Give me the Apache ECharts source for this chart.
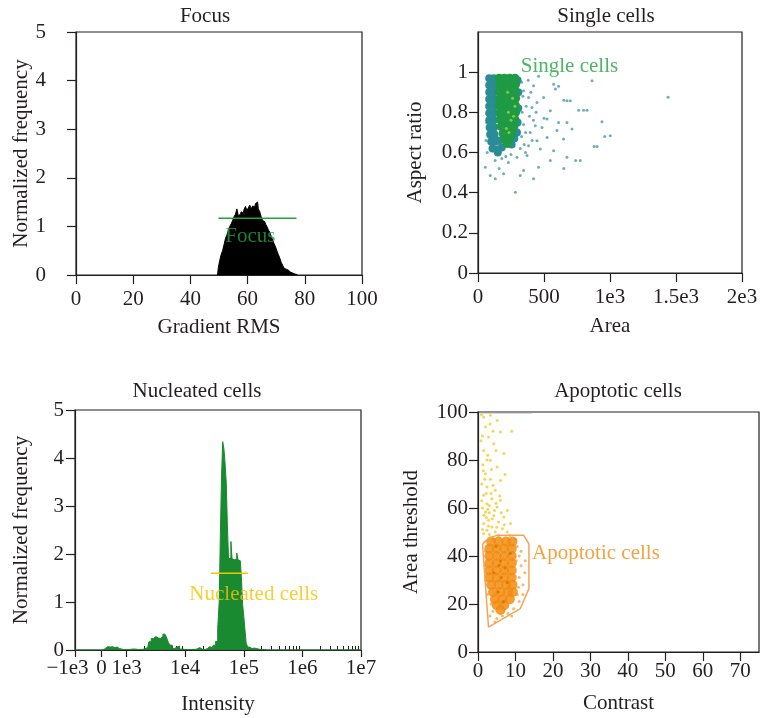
<!DOCTYPE html>
<html>
<head>
<meta charset="utf-8">
<script src="https://cdn.jsdelivr.net/npm/echarts@6/dist/echarts.min.js"></script>
<style>
  html, body { margin: 0; padding: 0; background: #fff; }
  #chart { width: 780px; height: 718px; }
</style>
</head>
<body>
<div id="chart"></div>
<script>
// Focus histogram (Gradient RMS)
const focusRms = [49.5, 50, 50.5, 51, 51.5, 52, 52.5, 53, 53.5, 54, 54.5, 55, 55.5, 56, 56.5, 57, 57.5, 58, 58.5, 59, 59.5, 60, 60.5, 61, 61.5, 62, 62.5, 63, 63.5, 64, 64.5, 65, 65.5, 66, 66.5, 67, 67.5, 68, 68.5, 69, 69.5, 70, 70.5, 71, 71.5, 72, 72.5, 73, 73.5, 74, 74.5, 75, 75.5, 76, 76.5, 77, 77.5]
const focusFreq = [0, 0.15, 0.3, 0.42, 0.5, 0.62, 0.75, 0.82, 0.92, 1.0, 1.05, 1.12, 1.2, 1.25, 1.36, 1.22, 1.25, 1.3, 1.27, 1.35, 1.41, 1.33, 1.38, 1.44, 1.36, 1.42, 1.4, 1.47, 1.5, 1.36, 1.3, 1.2, 1.12, 1.1, 1.05, 1.0, 0.93, 0.88, 0.8, 0.72, 0.65, 0.58, 0.5, 0.42, 0.35, 0.26, 0.2, 0.14, 0.12, 0.1, 0.08, 0.06, 0.04, 0.03, 0.02, 0.01, 0]
const focusGate = [[49.8, 1.17], [77.1, 1.17]]

// Single cells scatter (Area, Aspect ratio)
const singleBand = [
  [85, 0.97], [120, 0.97], [85, 0.935], [120, 0.935], [85, 0.9], [120, 0.9], [85, 0.865], [120, 0.865],
  [85, 0.83], [120, 0.83], [85, 0.795], [120, 0.795], [85, 0.76], [120, 0.76], [88, 0.725], [122, 0.725],
  [92, 0.69], [125, 0.69], [100, 0.655], [135, 0.655], [160, 0.66], [110, 0.62], [145, 0.615], [180, 0.625],
  [150, 0.6], [255, 0.64], [275, 0.67], [295, 0.7], [300, 0.75], [305, 0.82], [305, 0.9], [300, 0.96]
]
const singleCore = [
  [160, 0.97], [200, 0.97], [240, 0.97], [280, 0.97],
  [165, 0.94], [205, 0.94], [245, 0.94], [285, 0.94],
  [160, 0.905], [200, 0.905], [240, 0.905], [282, 0.905],
  [165, 0.87], [205, 0.87], [245, 0.87], [285, 0.87],
  [162, 0.835], [202, 0.835], [242, 0.835], [283, 0.835],
  [165, 0.8], [205, 0.8], [245, 0.8], [285, 0.8],
  [168, 0.765], [205, 0.765], [242, 0.765], [280, 0.765],
  [175, 0.73], [210, 0.73], [245, 0.73], [272, 0.73],
  [190, 0.695], [222, 0.695], [255, 0.695],
  [205, 0.665], [235, 0.665], [220, 0.645]
]
const singleBright = [[230, 0.8], [250, 0.76], [215, 0.72], [262, 0.87], [235, 0.7], [280, 0.83], [270, 0.78], [225, 0.9]]
const singleSparse = [
  [459, 0.98], [573, 0.94], [586, 0.916], [674, 0.858], [699, 0.858], [762, 0.81], [826, 0.81], [939, 0.753],
  [902, 0.63], [1002, 0.684], [864, 0.957], [674, 0.75], [712, 0.717], [611, 0.75], [548, 0.808], [523, 0.767],
  [485, 0.725], [434, 0.733], [396, 0.7], [447, 0.659], [573, 0.609], [674, 0.576], [775, 0.56], [548, 0.56],
  [459, 0.526], [345, 0.51], [283, 0.402], [93, 0.485], [131, 0.469], [55, 0.526], [194, 0.494], [320, 0.485],
  [421, 0.469], [371, 0.585], [295, 0.576], [383, 0.634], [472, 0.618], [409, 0.824], [383, 0.874], [447, 0.849],
  [497, 0.874], [345, 0.907], [421, 0.932], [598, 0.709], [648, 0.667], [523, 0.675], [1440, 0.875], [650, 0.52],
  [740, 0.56], [880, 0.63], [960, 0.68], [800, 0.81], [650, 0.86], [610, 0.93], [330, 0.95], [340, 0.88],
  [335, 0.8], [345, 0.74], [330, 0.68], [350, 0.64], [360, 0.6], [320, 0.62], [250, 0.59], [210, 0.58],
  [180, 0.57], [130, 0.56], [70, 0.6], [60, 0.66], [65, 0.75], [365, 0.83], [390, 0.78], [420, 0.76],
  [380, 0.96], [400, 0.9], [440, 0.8], [500, 0.77], [360, 0.7], [410, 0.66], [230, 0.55], [160, 0.52]
]

// Nucleated cells histogram (log10 intensity)
const nucLog = [2.12, 2.6, 2.63, 2.66, 2.7, 2.74, 2.78, 2.82, 2.86, 2.9, 3.0, 3.1, 3.2, 3.3, 3.36, 3.4, 3.44, 3.48, 3.52, 3.56, 3.6, 3.64, 3.67, 3.7, 3.73, 3.76, 3.8, 3.84, 3.88, 3.92, 4.0, 4.1, 4.2, 4.25, 4.3, 4.38, 4.42, 4.46, 4.5, 4.54, 4.57, 4.59, 4.61, 4.63, 4.65, 4.67, 4.69, 4.71, 4.73, 4.75, 4.77, 4.79, 4.81, 4.83, 4.85, 4.87, 4.89, 4.91, 4.93, 4.95, 4.97, 4.99, 5.01, 5.03, 5.05, 5.08, 5.12, 5.16, 5.2, 5.3, 5.4, 7.0]
const nucFreq = [0, 0, 0.04, 0.07, 0.06, 0.07, 0.05, 0.06, 0.03, 0.01, 0.01, 0.02, 0.01, 0.02, 0.05, 0.17, 0.24, 0.28, 0.25, 0.24, 0.28, 0.33, 0.3, 0.25, 0.15, 0.1, 0.03, 0.06, 0.08, 0.02, 0.01, 0.01, 0.02, 0.05, 0.01, 0.03, 0.07, 0.05, 0.1, 0.18, 0.45, 1.0, 2.4, 3.6, 4.34, 4.2, 3.9, 3.5, 2.6, 1.9, 1.92, 2.26, 1.9, 1.88, 1.86, 1.9, 2.02, 1.88, 1.87, 1.86, 1.5, 0.95, 0.7, 0.42, 0.15, 0.06, 0.03, 0.04, 0.02, 0.01, 0, 0]
const nucGate = [[4.44, 1.6], [5.07, 1.6]]
const nucTickPos = [2.12, 2.573, 3, 4, 5, 6, 7]
const nucTickText = ['{neg|\u22121e3}', '0', '1e3', '1e4', '1e5', '1e6', '1e7']

// Apoptotic cells scatter (Contrast, Area threshold)
const apoCore = [
  [3.5, 46], [5.5, 46], [7.5, 46], [9.2, 46],
  [3, 43], [5, 43], [7, 43], [9, 43],
  [3, 40], [5, 40], [7, 40], [9, 40],
  [3, 37], [5, 37], [7, 37], [9, 37],
  [3, 34], [5, 34], [7, 34], [9, 34],
  [3, 31], [5, 31], [7, 31], [9, 31],
  [3.5, 28], [5.5, 28], [7.5, 28], [9.2, 28],
  [4, 25], [6, 25], [8, 25], [9.3, 25],
  [4.5, 22], [6.5, 22], [8.5, 22],
  [5, 19.5], [7, 19.5], [6, 17.5]
]
const apoDark = [[4.2, 33], [6, 38], [7.8, 29], [5.4, 25], [8.6, 41], [6.8, 21], [4.8, 44], [7.2, 35], [6.2, 31], [5.6, 36]]
const apoLight = [
  [10.5, 44], [11, 40], [11.5, 36], [11, 31], [12, 28], [10.5, 24], [11, 21], [9.5, 18], [8, 16], [6.5, 15],
  [5, 14], [4, 17], [3.5, 20], [2.5, 24], [2, 30], [1.8, 36], [2, 42], [10, 47], [11.5, 42], [12.5, 33],
  [12, 24], [9, 15], [10.2, 38], [10.8, 27], [12.6, 38], [4.5, 12.5], [3.2, 15]
]
const apoYellow = [
  [1.5, 97.9], [3.3, 98.6], [5.1, 96.5], [2.0, 93.8], [6.0, 91.7], [2.8, 89.6], [4.2, 86.8], [1.5, 84], [6.9, 82.7],
  [3.3, 79.9], [5.1, 77.1], [2.0, 74.3], [3.3, 72], [6.0, 71.5], [2.4, 68.8], [4.6, 67.4], [1.5, 65.3], [3.7, 63.9],
  [6.0, 63.2], [2.4, 61.8], [5.1, 60.4], [7.8, 59], [2.0, 58.3], [4.2, 56.9], [6.9, 56.3], [2.8, 54.9], [5.5, 54.2],
  [1.5, 53.5], [8.7, 53.5], [3.7, 52.1], [6.5, 51.4], [2.4, 50.7], [4.6, 50], [7.8, 50], [1.5, 49.3], [1.2, 60],
  [1.0, 70], [1.3, 78], [0.8, 88], [2.6, 82], [4.0, 92], [3.0, 58], [4.0, 47], [3.0, 49], [5.5, 48.5], [8.5, 48.5],
  [1.8, 46], [2.2, 56], [3.5, 66], [1.8, 72], [9.0, 92], [7.2, 74], [4.8, 62], [6.2, 58], [1.2, 51], [2.8, 52.5],
  [5.0, 52], [7.0, 53], [3.8, 55.5], [1.6, 57], [2.6, 59.5], [4.4, 59], [1.0, 63], [3.0, 61], [5.8, 65],
  [2.2, 66], [4.0, 69.5], [1.4, 75.5], [3.6, 76], [2.4, 80], [4.8, 84], [1.2, 90], [3.2, 95], [0.9, 99]
]
const apoGate = [[1.2, 45], [3, 47.5], [5, 48.6], [12.2, 48.6], [13.6, 45], [13.6, 26.4], [11.3, 18.1], [2.8, 10.4], [1.2, 45]]
const apoTopLine = [[0.6, 99.4], [14.4, 99.4]]

const ink = '#231f20'
const serif = 'Liberation Serif'
const focusGreen = '#22a33c'
const gold = '#f6c300'
const orange = '#f28c0f'

const txt = { fontFamily: serif, fontSize: 21, color: ink }

function valueAxis(gridIndex, extra) {
  return Object.assign({
    type: 'value',
    gridIndex: gridIndex,
    nameLocation: 'middle',
    nameTextStyle: txt,
    axisLine: { show: true, onZero: false, lineStyle: { color: ink, width: 1.2 } },
    axisTick: { show: true, length: 9, lineStyle: { color: ink, width: 1.2 } },
    axisLabel: Object.assign({}, txt),
    splitLine: { show: false }
  }, extra)
}

function pairs(xs, ys) {
  return xs.map((x, i) => [x, ys[i]])
}

// minor ticks for the intensity axis (2..9 x 10^n)
const nucMinor = []
for (let n = 3; n < 7; n++) {
  for (let k = 2; k < 10; k++) nucMinor.push(Math.log10(k) + n)
}

const chart = echarts.init(document.getElementById('chart'))

const titleStyle = Object.assign({ fontWeight: 'normal' }, txt)

const option = {
  animation: false,
  title: [
    { text: 'Focus', left: 200, top: 1, textAlign: 'center', textStyle: titleStyle },
    { text: 'Single cells', left: 601, top: 1, textAlign: 'center', textStyle: titleStyle },
    { text: 'Nucleated cells', left: 192, top: 376, textAlign: 'center', textStyle: titleStyle },
    { text: 'Apoptotic cells', left: 613, top: 376, textAlign: 'center', textStyle: titleStyle }
  ],
  grid: [
    { left: 76, top: 32, width: 286, height: 243, show: true, borderColor: ink, borderWidth: 1.2 },
    { left: 478, top: 32, width: 264, height: 241, show: true, borderColor: ink, borderWidth: 1.2 },
    { left: 75, top: 410, width: 286, height: 240, show: true, borderColor: ink, borderWidth: 1.2 },
    { left: 478, top: 412, width: 281, height: 240, show: true, borderColor: ink, borderWidth: 1.2 }
  ],
  xAxis: [
    valueAxis(0, { min: 0, max: 100, interval: 20, name: 'Gradient RMS', nameGap: 42, axisLabel: Object.assign({ margin: 14 }, txt) }),
    valueAxis(1, {
      min: 0, max: 2000, interval: 500, name: 'Area', nameGap: 43,
      axisLabel: Object.assign({ margin: 14, formatter: (v) => ({ 0: '0', 500: '500', 1000: '1e3', 1500: '1.5e3', 2000: '2e3' })[v] }, txt)
    }),
    valueAxis(2, {
      min: 2.12, max: 7, name: 'Intensity', nameGap: 44,
      axisTick: { show: true, length: 7, customValues: nucTickPos, lineStyle: { color: ink, width: 1.2 } },
      axisLabel: Object.assign({
        margin: 8, customValues: nucTickPos,
        formatter: (v) => nucTickText[nucTickPos.indexOf(v)],
        rich: { neg: { fontFamily: serif, fontSize: 21, color: ink, padding: [0, 15, 0, 0] } }
      }, txt)
    }),
    valueAxis(3, {
      min: 0, max: 75, name: 'Contrast', nameGap: 41,
      axisTick: { show: true, length: 9, customValues: [0, 10, 20, 30, 40, 50, 60, 70], lineStyle: { color: ink, width: 1.2 } },
      axisLabel: Object.assign({ margin: 9, customValues: [0, 10, 20, 30, 40, 50, 60, 70] }, txt)
    }),
    // minor ticks on intensity axis
    valueAxis(2, {
      min: 2.12, max: 7,
      axisLine: { show: false },
      axisTick: { show: true, length: 4, customValues: nucMinor, lineStyle: { color: ink, width: 1 } },
      axisLabel: { show: false }
    })
  ],
  yAxis: [
    valueAxis(0, { min: 0, max: 5, interval: 1, name: 'Normalized frequency', nameGap: 44, axisLabel: Object.assign({ margin: 30 }, txt) }),
    valueAxis(1, {
      min: 0, max: 1.2, name: 'Aspect ratio', nameGap: 52,
      axisTick: { show: true, length: 9, customValues: [0, 0.2, 0.4, 0.6, 0.8, 1], lineStyle: { color: ink, width: 1.2 } },
      axisLabel: Object.assign({ margin: 10, customValues: [0, 0.2, 0.4, 0.6, 0.8, 1] }, txt)
    }),
    valueAxis(2, { min: 0, max: 5, interval: 1, name: 'Normalized frequency', nameGap: 43, axisLabel: Object.assign({ margin: 11 }, txt) }),
    valueAxis(3, { min: 0, max: 100, interval: 20, name: 'Area threshold', nameGap: 56, axisLabel: Object.assign({ margin: 10 }, txt) })
  ],
  series: [
    // Focus
    {
      type: 'line', xAxisIndex: 0, yAxisIndex: 0, step: 'middle', symbol: 'none',
      data: pairs(focusRms, focusFreq),
      lineStyle: { color: '#000', width: 1 }, areaStyle: { color: '#000', opacity: 1 }
    },
    {
      type: 'line', xAxisIndex: 0, yAxisIndex: 0, symbol: 'none', data: focusGate, z: 5,
      lineStyle: { color: focusGreen, width: 1.5 }
    },
    {
      type: 'scatter', xAxisIndex: 0, yAxisIndex: 0, symbolSize: 1, data: [[61, 0.79]], z: 10,
      itemStyle: { color: 'transparent' },
      label: { show: true, position: 'inside', formatter: 'Focus', fontFamily: serif, fontSize: 21, color: focusGreen, textBorderWidth: 0 }
    },
    // Single cells
    {
      type: 'scatter', xAxisIndex: 1, yAxisIndex: 1, symbolSize: 8, data: singleBand,
      itemStyle: { color: '#2a8c96', opacity: 1 }
    },
    {
      type: 'scatter', xAxisIndex: 1, yAxisIndex: 1, symbolSize: 3, data: singleSparse,
      itemStyle: { color: '#2f8f99', opacity: 0.7 }
    },
    {
      type: 'scatter', xAxisIndex: 1, yAxisIndex: 1, symbolSize: 9, data: singleCore,
      itemStyle: { color: '#1f9a45', opacity: 1 }
    },
    {
      type: 'scatter', xAxisIndex: 1, yAxisIndex: 1, symbolSize: 3, data: singleBright,
      itemStyle: { color: '#8fcf3c', opacity: 0.9 }
    },
    {
      type: 'scatter', xAxisIndex: 1, yAxisIndex: 1, symbolSize: 1, data: [[320, 1.03]], z: 10,
      itemStyle: { color: 'transparent' },
      label: { show: true, position: 'right', distance: 0, formatter: 'Single cells', fontFamily: serif, fontSize: 21, color: focusGreen }
    },
    // Nucleated cells
    {
      type: 'line', xAxisIndex: 2, yAxisIndex: 2, step: 'middle', symbol: 'none',
      data: pairs(nucLog, nucFreq),
      lineStyle: { color: '#1a8a30', width: 1 }, areaStyle: { color: '#1a8a30', opacity: 1 }
    },
    {
      type: 'line', xAxisIndex: 2, yAxisIndex: 2, symbol: 'none', data: nucGate, z: 5,
      lineStyle: { color: gold, width: 1.5 }
    },
    {
      type: 'scatter', xAxisIndex: 2, yAxisIndex: 2, symbolSize: 1, data: [[5.17, 1.15]], z: 10,
      itemStyle: { color: 'transparent' },
      label: { show: true, position: 'inside', formatter: 'Nucleated cells', fontFamily: serif, fontSize: 21, color: gold, textBorderWidth: 0 }
    },
    // Apoptotic cells
    {
      type: 'line', xAxisIndex: 3, yAxisIndex: 3, symbol: 'none', data: apoTopLine,
      lineStyle: { color: '#d8d8d8', width: 1 }
    },
    {
      type: 'scatter', xAxisIndex: 3, yAxisIndex: 3, symbolSize: 3, data: apoYellow,
      itemStyle: { color: '#f5c518', opacity: 0.75 }
    },
    {
      type: 'scatter', xAxisIndex: 3, yAxisIndex: 3, symbolSize: 3, data: apoLight,
      itemStyle: { color: '#f5a54a', opacity: 0.8 }
    },
    {
      type: 'scatter', xAxisIndex: 3, yAxisIndex: 3, symbolSize: 10, data: apoCore,
      itemStyle: { color: orange, opacity: 0.85 }
    },
    {
      type: 'scatter', xAxisIndex: 3, yAxisIndex: 3, symbolSize: 3, data: apoDark,
      itemStyle: { color: '#d97400', opacity: 0.9 }
    },
    {
      type: 'line', xAxisIndex: 3, yAxisIndex: 3, symbol: 'none', data: apoGate, z: 5,
      lineStyle: { color: '#f2a55a', width: 1.5 }
    },
    {
      type: 'scatter', xAxisIndex: 3, yAxisIndex: 3, symbolSize: 1, data: [[14.3, 41]], z: 10,
      itemStyle: { color: 'transparent' },
      label: { show: true, position: 'right', distance: 0, formatter: 'Apoptotic cells', fontFamily: serif, fontSize: 21, color: orange }
    }
  ]
}

chart.setOption(option)
window.addEventListener('resize', () => {
  chart.resize()
})
</script>
</body>
</html>
